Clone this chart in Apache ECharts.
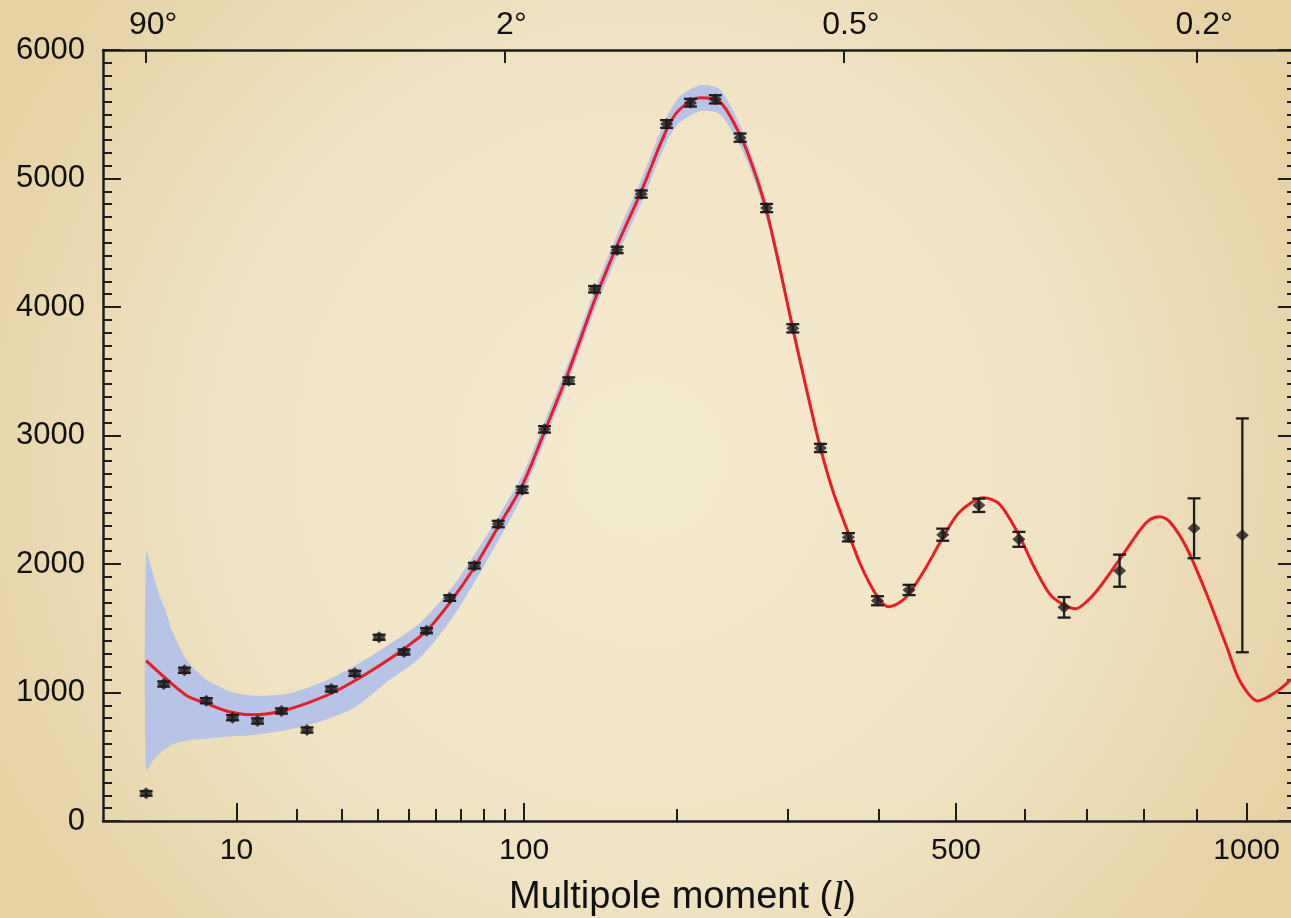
<!DOCTYPE html>
<html><head><meta charset="utf-8">
<script src="https://cdn.jsdelivr.net/npm/echarts@6/dist/echarts.min.js"></script>
<style>html,body{margin:0;padding:0;background:#efe2c0}#c{width:1291px;height:918px}</style>
</head><body><div id="c"></div>
<script>
// ---- data (multipole l, power in uK^2) ----
const pointL = [2, 3, 4.5, 6.5, 9.5, 13, 17, 22, 27.5, 33.5, 40.5, 48.5, 56.5, 65.5, 76, 87, 99, 111, 125, 141, 156, 173, 192, 211, 232, 254, 279, 305, 334, 365, 399, 438, 482, 532, 591, 662, 756, 894, 991];
const pointD = [215, 1066, 1173, 936, 804, 778, 856, 708, 1027, 1149, 1430, 1315, 1481, 1735, 1987, 2311, 2578, 3048, 3427, 4138, 4444, 4879, 5424, 5590, 5616, 5318, 4770, 3834, 2903, 2208, 1714, 1798, 2228, 2457, 2192, 1663, 1948, 2278, 2223];
const pointErr = [18, 20, 20, 20, 20, 20, 20, 20, 20, 20, 20, 20, 20, 22, 22, 25, 25, 25, 25, 25, 25, 28, 30, 30, 32, 32, 32, 32, 32, 32, 35, 40, 47, 52, 58, 80, 125, 233, 910];

const curveL = [2, 3, 4.7, 6.5, 9.2, 12.4, 16.7, 21.9, 27.9, 34.9, 42.8, 48.2, 56.5, 65.6, 76, 87, 99, 111, 125, 141, 156, 173, 192, 202, 219, 236, 254, 266, 279, 292, 305, 319, 334, 348, 365, 378, 390, 402, 412, 426, 438, 460, 482, 505, 539, 562, 590, 613, 639, 662, 681, 701, 722, 756, 792, 810, 829, 847, 879, 918, 959, 986, 1024, 1063, 1095];
const curveD = [1248, 1123, 975, 915, 848, 826, 852, 915, 1000, 1115, 1245, 1335, 1480, 1700, 1975, 2290, 2610, 3030, 3500, 4050, 4480, 4900, 5380, 5535, 5628, 5596, 5338, 5085, 4745, 4300, 3834, 3367, 2903, 2560, 2240, 2010, 1845, 1718, 1668, 1700, 1770, 1975, 2205, 2405, 2515, 2465, 2235, 1990, 1765, 1680, 1652, 1715, 1823, 2035, 2262, 2345, 2368, 2330, 2130, 1772, 1356, 1090, 934, 1006, 1103];

const bandL  = [2, 2.37, 2.76, 3, 3.64, 4.68, 6.52, 7.96, 9.16, 12.35, 17.9, 24.8, 33.1, 42.8, 54.1, 66.9, 81.5, 99, 111, 125, 141, 156, 173, 192, 202, 219, 236, 254, 266, 279, 292, 305, 319, 334, 348];
const bandLo = [397, 475, 528, 553, 599, 625, 640, 651, 658, 669, 708, 773, 877, 1080, 1270, 1590, 2020, 2530, 2955, 3425, 3970, 4395, 4810, 5285, 5435, 5524, 5500, 5255, 5015, 4685, 4250, 3794, 3337, 2883, 2548];
const bandHi = [2096, 1917, 1746, 1675, 1461, 1253, 1097, 1045, 1006, 975, 988, 1072, 1201, 1360, 1540, 1830, 2220, 2690, 3105, 3575, 4130, 4565, 4990, 5475, 5635, 5725, 5693, 5418, 5155, 4805, 4350, 3874, 3397, 2923, 2572];

const bottomMajorL = [10, 100, 500, 1000];
const bottomMajorLabels = ['10', '100', '500', '1000'];
const bottomMinorL = [20, 30, 40, 50, 60, 70, 80, 90, 200, 300, 400, 600, 700, 800, 900];
const topL = [2, 90, 360, 900];
const topLabels = ['90°', '2°', '0.5°', '0.2°'];
const yMin = 0, yMax = 6000, yStep = 1000;

// ---- axis transform: the horizontal scale is linear in l^0.4 ----
const P = 0.4;
const u = l => Math.pow(l, P);
const X_MIN = 0.75, X_MAX = 16.5;
const FONT = "'Liberation Sans', Helvetica, Arial, sans-serif";
const INK = '#1e1c1c';

function lookup(values, labels) {
  return v => {
    for (let i = 0; i < values.length; i++) if (Math.abs(u(values[i]) - v) < 1e-6) return labels[i];
    return '';
  };
}

const chart = echarts.init(document.getElementById('c'), null, {renderer: 'canvas'});
chart.setOption({
  animation: false,
  backgroundColor: {
    type: 'radial', x: 0.5, y: 0.5, r: 0.78,
    colorStops: [{offset: 0, color: '#f5ebd0'}, {offset: 0.6, color: '#f0e3c2'}, {offset: 1, color: '#e6d2a5'}]
  },
  grid: {left: 103, top: 50, right: -5, bottom: 97, containLabel: false, outerBoundsMode: 'none'},
  xAxis: [
    {
      type: 'value', position: 'bottom', min: X_MIN, max: X_MAX,
      axisLine: {show: true, onZero: false, lineStyle: {color: INK, width: 2.5}},
      splitLine: {show: false},
      axisTick: {show: true, inside: true, length: 18, customValues: bottomMajorL.map(u), lineStyle: {color: INK, width: 2}},
      axisLabel: {customValues: bottomMajorL.map(u), formatter: lookup(bottomMajorL, bottomMajorLabels), margin: 15, fontSize: 30, color: '#111', fontFamily: FONT},
      name: 'Multipole moment ({i|l})', nameLocation: 'middle', nameGap: 57,
      nameTextStyle: {fontSize: 38, color: '#111', fontFamily: FONT, padding: [0, 34, 0, 0],
        rich: {i: {fontSize: 40, fontStyle: 'italic', fontFamily: "'Liberation Serif', 'Times New Roman', serif", color: '#111'}}}
    },
    {
      type: 'value', position: 'bottom', min: X_MIN, max: X_MAX,
      axisLine: {show: false, onZero: false}, splitLine: {show: false},
      axisTick: {show: true, inside: true, length: 12, customValues: bottomMinorL.map(u), lineStyle: {color: INK, width: 2}},
      axisLabel: {show: false}
    },
    {
      type: 'value', position: 'top', min: X_MIN, max: X_MAX,
      axisLine: {show: true, onZero: false, lineStyle: {color: INK, width: 2.5}}, splitLine: {show: false},
      axisTick: {show: true, inside: true, length: 13, customValues: topL.map(u), lineStyle: {color: INK, width: 2}},
      axisLabel: {customValues: topL.map(u), formatter: lookup(topL, topLabels), margin: 9, fontSize: 32, color: '#111', fontFamily: FONT, padding: [0, 0, 0, 14]}
    }
  ],
  yAxis: [
    {
      type: 'value', position: 'left', min: yMin, max: yMax, interval: yStep,
      axisLine: {show: true, onZero: false, lineStyle: {color: INK, width: 2.5}},
      splitLine: {show: false}, minorSplitLine: {show: false},
      axisTick: {show: true, inside: true, length: 18, lineStyle: {color: INK, width: 2}},
      minorTick: {show: true, splitNumber: 10, length: 9, lineStyle: {color: INK, width: 2}},
      axisLabel: {margin: 18, fontSize: 31, color: '#111', fontFamily: FONT, formatter: v => String(v), padding: [0, 0, 8, 0]}
    },
    {
      type: 'value', position: 'right', min: yMin, max: yMax, interval: yStep,
      axisLine: {show: true, onZero: false, lineStyle: {color: INK, width: 2.5}},
      splitLine: {show: false}, minorSplitLine: {show: false},
      axisTick: {show: true, inside: true, length: 18, lineStyle: {color: INK, width: 2}},
      minorTick: {show: true, splitNumber: 10, length: 9, lineStyle: {color: INK, width: 2}},
      axisLabel: {show: false}
    }
  ],
  series: [
    {
      type: 'custom', name: 'band', xAxisIndex: 0, yAxisIndex: 0, z: 1, silent: true,
      data: [[u(bandL[0]), bandLo[0]]],
      encode: {x: 0, y: 1},
      renderItem: (params, api) => {
        const pts = [];
        for (let i = 0; i < bandL.length; i++) pts.push(api.coord([u(bandL[i]), bandHi[i]]));
        for (let i = bandL.length - 1; i >= 0; i--) pts.push(api.coord([u(bandL[i]), bandLo[i]]));
        return {type: 'polygon', shape: {points: pts, smooth: 0.25}, style: {fill: '#b7c3e7'}};
      }
    },
    {
      type: 'line', name: 'model', xAxisIndex: 0, yAxisIndex: 0, z: 2,
      data: curveL.map((l, i) => [u(l), curveD[i]]),
      smooth: 0.3, showSymbol: false, symbol: 'none',
      lineStyle: {color: '#ec1c24', width: 3}
    },
    {
      type: 'custom', name: 'errors', xAxisIndex: 0, yAxisIndex: 0, z: 3, silent: true,
      data: pointL.map((l, i) => [u(l), pointD[i], pointErr[i]]),
      encode: {x: 0, y: 1},
      renderItem: (params, api) => {
        const x = api.value(0), y = api.value(1), e = api.value(2);
        const t = api.coord([x, y + e]), b = api.coord([x, y - e]);
        const w = 6.5, st = {stroke: INK, lineWidth: 2.3};
        return {type: 'group', children: [
          {type: 'line', shape: {x1: t[0], y1: t[1], x2: b[0], y2: b[1]}, style: st},
          {type: 'line', shape: {x1: t[0] - w, y1: t[1], x2: t[0] + w, y2: t[1]}, style: st},
          {type: 'line', shape: {x1: b[0] - w, y1: b[1], x2: b[0] + w, y2: b[1]}, style: st}
        ]};
      }
    },
    {
      type: 'scatter', name: 'data', xAxisIndex: 0, yAxisIndex: 0, z: 4,
      data: pointL.map((l, i) => [u(l), pointD[i]]),
      symbol: 'diamond', symbolSize: [13, 12],
      itemStyle: {color: INK}
    }
  ]
});
</script>
</body></html>
